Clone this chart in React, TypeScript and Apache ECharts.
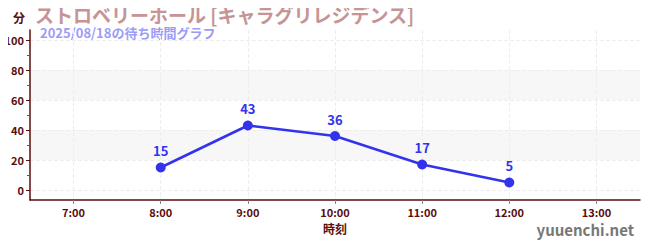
import React, { useEffect, useRef } from "react";
import * as echarts from "echarts";

const categories = ["7:00", "8:00", "9:00", "10:00", "11:00", "12:00", "13:00"];
const waitTimes: (number | null)[] = [null, 15, 43, 36, 17, 5, null];
const majorTicks = [0, 20, 40, 60, 80, 100];
const minorTicks = [10, 30, 50, 70, 90];
const titleText = "ストロベリーホール [キャラグリレジデンス]";
const subtitleText = "2025/08/18の待ち時間グラフ";

export default function App() {
  const ref = useRef<HTMLDivElement>(null);
  useEffect(() => {
    if (!ref.current) return;
    const chart = echarts.init(ref.current, null, { renderer: "svg" });
    const axisColor = "#5a0d0d";
    const font = "'Noto Sans CJK JP', 'Noto Sans', sans-serif";
    const xIdx = categories.map((_, i) => i);
    const seriesData = waitTimes.map((v, i) => [i, v]);
    chart.setOption({
      animation: false,
      textStyle: { fontFamily: font },
      grid: { left: 30, right: 10, top: 30, bottom: 50 },
      graphic: [
        { type: "text", x: 13, y: 17, style: { text: "分", fontSize: 12, fontWeight: "bold", fill: axisColor, fontFamily: font, verticalAlign: "middle" } },
        { type: "text", x: 35, y: 14, style: { text: titleText, fontSize: 19, fontWeight: "bold", fill: "#c69494", fontFamily: font, verticalAlign: "middle" } },
        { type: "text", x: 40, y: 32, style: { text: subtitleText, fontSize: 13, fontWeight: "bold", fill: "#9c9cf7", fontFamily: font, verticalAlign: "middle" } },
        { type: "text", x: 634, y: 229, style: { text: "yuuenchi.net", fontSize: 15, fontWeight: "bold", fill: "#777777", fontFamily: font, align: "right", verticalAlign: "middle" } },
      ],
      xAxis: {
        type: "value",
        min: -0.5,
        max: categories.length - 0.5,
        name: "時刻",
        nameLocation: "middle",
        nameGap: 22,
        nameTextStyle: { color: axisColor, fontWeight: "bold", fontSize: 12 },
        axisLine: { onZero: false, lineStyle: { color: axisColor, width: 1.5 } },
        axisTick: { show: true, customValues: xIdx, length: 4, lineStyle: { color: "#888" } },
        axisLabel: {
          customValues: xIdx,
          formatter: (v: number) => categories[Math.round(v)] ?? "",
          color: axisColor,
          fontSize: 11,
          fontWeight: "bold",
          margin: 6,
        },
        splitLine: { show: true, lineStyle: { color: "#eeeeee", type: "dashed" } },
      },
      yAxis: [
        {
          type: "value",
          min: -6.667,
          max: 106.667,
          axisLine: { show: true, onZero: false, lineStyle: { color: axisColor, width: 1.5 } },
          axisTick: { show: true, customValues: majorTicks, length: 4, lineStyle: { color: axisColor } },
          axisLabel: { customValues: majorTicks, color: axisColor, fontSize: 11, fontWeight: "bold", margin: 6 },
          splitLine: { show: true, lineStyle: { color: "#eeeeee", type: "dashed" } },
          splitArea: { show: true, areaStyle: { color: ["rgba(255,255,255,0)", "#f7f7f7"] } },
        },
        {
          type: "value",
          min: -6.667,
          max: 106.667,
          position: "left",
          axisLine: { show: false, onZero: false },
          axisTick: { show: true, customValues: minorTicks, length: 3, lineStyle: { color: "#dd2222" } },
          axisLabel: { show: false },
          splitLine: { show: false },
        },
      ],
      series: [
        {
          type: "line",
          data: seriesData,
          yAxisIndex: 0,
          symbol: "circle",
          symbolSize: 10,
          lineStyle: { color: "#3333ee", width: 2.5 },
          itemStyle: { color: "#3333ee" },
          label: { show: true, position: "top", color: "#3333ee", fontWeight: "bold", fontSize: 13, distance: 5, formatter: (p: any) => String(p.value[1]) },
        },
      ],
    });
    return () => chart.dispose();
  }, []);
  return <div ref={ref} style={{ width: 650, height: 250, margin: -8 }} />;
}
